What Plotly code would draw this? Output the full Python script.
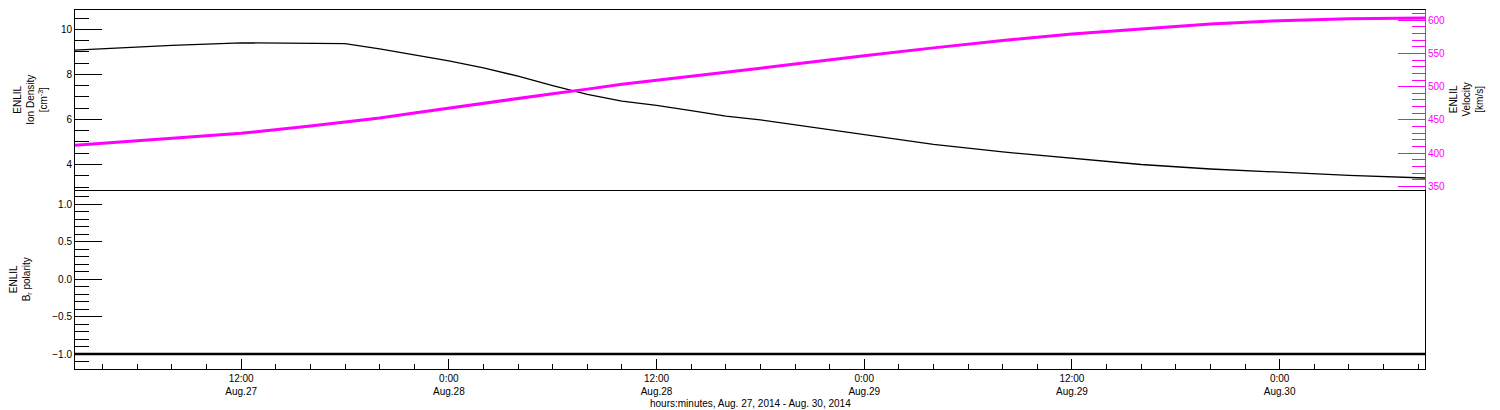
import plotly.graph_objects as go

# ---- data ----
times = ["2014-08-27 02:24", "2014-08-27 05:00", "2014-08-27 08:00", "2014-08-27 12:00",
         "2014-08-27 16:00", "2014-08-27 18:00", "2014-08-27 20:00", "2014-08-27 22:00",
         "2014-08-28 00:00", "2014-08-28 02:00", "2014-08-28 04:00", "2014-08-28 06:00",
         "2014-08-28 08:00", "2014-08-28 10:00", "2014-08-28 12:00", "2014-08-28 14:00",
         "2014-08-28 16:00", "2014-08-28 18:00", "2014-08-28 20:00", "2014-08-28 22:00",
         "2014-08-29 00:00", "2014-08-29 04:00", "2014-08-29 08:00", "2014-08-29 12:00",
         "2014-08-29 16:00", "2014-08-29 20:00", "2014-08-30 00:00", "2014-08-30 04:00",
         "2014-08-30 08:24"]
density = [9.08, 9.18, 9.29, 9.40, 9.39, 9.37, 9.13, 8.88,
           8.60, 8.29, 7.92, 7.50, 7.11, 6.81, 6.63, 6.39,
           6.15, 5.98, 5.76, 5.54, 5.32, 4.89, 4.56, 4.28,
           4.00, 3.80, 3.66, 3.52, 3.40]
velocity = [412, 417, 422, 430, 441, 447, 453, 460.5,
            468, 475, 482.5, 489.5, 496.3, 503.5, 509.5, 515.3,
            521.6, 527.7, 534, 540.5, 546.3, 558.3, 569.5, 579.3,
            587, 594.1, 599.2, 602, 603]
pol_times = ["2014-08-27 02:24", "2014-08-28 12:00", "2014-08-30 08:24"]
polarity = [-1.0, -1.0, -1.0]

x_tickvals = ["2014-08-27 12:00", "2014-08-28 00:00", "2014-08-28 12:00",
              "2014-08-29 00:00", "2014-08-29 12:00", "2014-08-30 00:00"]
x_ticktext = ["12:00<br>Aug.27", "0:00<br>Aug.28", "12:00<br>Aug.28",
              "0:00<br>Aug.29", "12:00<br>Aug.29", "0:00<br>Aug.30"]
x_range = ["2014-08-27 02:24", "2014-08-30 08:24"]

MAG = "#ff00ff"
FONT = "Liberation Sans, Arial, sans-serif"

fig = go.Figure()
fig.add_trace(go.Scatter(x=times, y=density, xaxis="x2", yaxis="y2", mode="lines",
                         line=dict(color="black", width=1.3), showlegend=False))
fig.add_trace(go.Scatter(x=times, y=velocity, xaxis="x2", yaxis="y3", mode="lines",
                         line=dict(color=MAG, width=3), showlegend=False))
fig.add_trace(go.Scatter(x=pol_times, y=polarity, xaxis="x", yaxis="y", mode="lines",
                         line=dict(color="black", width=2.5), showlegend=False))

common_axis = dict(showgrid=False, zeroline=False, showline=True, linecolor="black",
                   linewidth=1, tickfont=dict(family=FONT, size=10, color="black"))

# the page body has an 8px margin, so the figure is a bit smaller and shifted
fig.update_layout(
    width=1492, height=402,
    margin=dict(l=67, r=75, t=2, b=41, pad=0),
    paper_bgcolor="white", plot_bgcolor="white",
    font=dict(family=FONT, size=10, color="black"),
    xaxis=dict(domain=[0, 1], anchor="y", range=x_range, type="date",
               tickmode="array", tickvals=x_tickvals, ticktext=x_ticktext,
               ticks="inside", ticklen=10, tickcolor="black", mirror=False,
               minor=dict(dtick=2 * 3600 * 1000, tick0="2014-08-27 00:00",
                          ticks="inside", ticklen=5, tickcolor="black"),
               **common_axis),
    xaxis2=dict(domain=[0, 1], anchor="y2", range=x_range, type="date",
                matches="x", showticklabels=False, ticks="", mirror=True,
                **common_axis),
    yaxis=dict(domain=[0, 0.5], anchor="x", range=[-1.2, 1.2],
               tickmode="linear", tick0=0, dtick=0.5, tickformat=".1f",
               ticks="inside", ticklen=27, tickcolor="black", mirror=True,
               minor=dict(dtick=0.1, tick0=0, ticks="inside", ticklen=14, tickcolor="black"),
               **common_axis),
    yaxis2=dict(domain=[0.5, 1], anchor="x2", range=[2.89, 10.86],
                tickmode="linear", tick0=0, dtick=2,
                ticks="inside", ticklen=27, tickcolor="black",
                minor=dict(dtick=0.5, tick0=0, ticks="inside", ticklen=14, tickcolor="black"),
                **common_axis),
    yaxis3=dict(overlaying="y2", anchor="x2", side="right", range=[345.5, 615.2],
                tickmode="linear", tick0=0, dtick=50,
                ticks="inside", ticklen=27, tickcolor=MAG,
                minor=dict(dtick=10, tick0=0, ticks="inside", ticklen=13, tickcolor=MAG),
                showgrid=False, zeroline=False, showline=True, linecolor=MAG, linewidth=1,
                tickfont=dict(family=FONT, size=10, color=MAG)),
)

annots = [
    dict(text="ENLIL<br>Ion Density<br>[cm<sup>-3</sup>]", x=-0.0326, y=0.75),
    dict(text="ENLIL<br>B<sub>r</sub> polarity", x=-0.0407, y=0.25),
    dict(text="ENLIL<br>Velocity<br>[km/s]", x=1.031, y=0.75),
]
for a in annots:
    fig.add_annotation(xref="paper", yref="paper", x=a["x"], y=a["y"], text=a["text"],
                       showarrow=False, textangle=-90, xanchor="center", yanchor="middle",
                       font=dict(family=FONT, size=10, color="black"))
fig.add_annotation(xref="paper", yref="paper", x=0.5, y=0, yshift=-34,
                   text="hours:minutes, Aug. 27, 2014 - Aug. 30, 2014",
                   showarrow=False, xanchor="center", yanchor="middle",
                   font=dict(family=FONT, size=10, color="black"))

fig.write_html("out.html")
